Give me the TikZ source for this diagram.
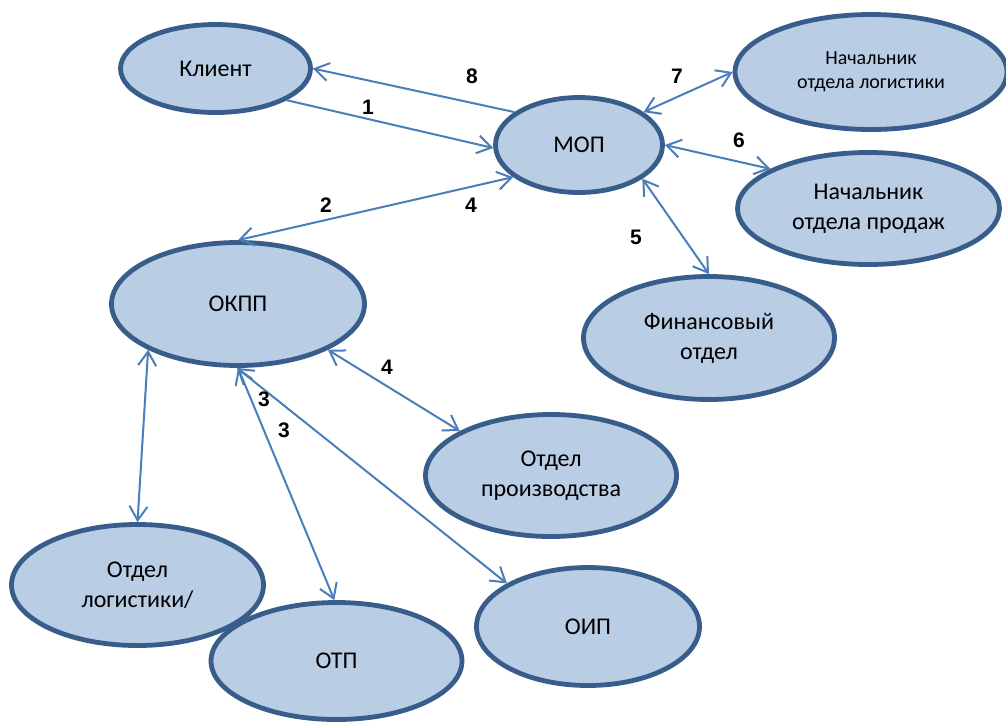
\documentclass[tikz,border=0pt]{standalone}
\usepackage{fontspec}
\setmainfont{Carlito}
\newfontfamily\numfont{Liberation Sans}
\usetikzlibrary{shapes.geometric,arrows.meta}
\definecolor{unitfill}{HTML}{B9CDE5}
\definecolor{unitline}{HTML}{385D8A}
\definecolor{linkline}{HTML}{4A7EBB}
\tikzset{
  unit/.style={ellipse, draw=unitline, fill=unitfill, line width=4.8pt,
    inner sep=0pt, align=center, text=black,
    font=\fontsize{24}{30}\selectfont},
  smallunit/.style={unit, font=\fontsize{20}{24}\selectfont},
  link/.style={draw=linkline, line width=2pt},
  twoway/.style={link, {Straight Barb[length=14pt,width=18pt]}-{Straight Barb[length=14pt,width=18pt]}},
  oneway/.style={link, -{Straight Barb[length=14pt,width=18pt]}},
  stepnum/.style={font=\numfont\fontsize{21}{25}\selectfont\bfseries, inner sep=0pt}
}
\begin{document}
\begin{tikzpicture}[x=1pt, y=-1pt]
\clip (0,0) rectangle (1006,724);
\fill[white] (0,0) rectangle (1006,724);

% organisational units
\node[unit, minimum width=190pt, minimum height=88pt]  (client) at (215.5,68.5) {Клиент};
\node[unit, minimum width=167pt, minimum height=95pt]  (mop)    at (579,145)    {МОП};
\node[smallunit, minimum width=272pt, minimum height=115pt] (headlog) at (871,72) {Начальник\\отдела логистики};
\node[unit, minimum width=262pt, minimum height=112pt] (headsales) at (868.5,208.5) {Начальник\\отдела продаж};
\node[unit, minimum width=253pt, minimum height=123pt] (okpp)   at (238,304)    {ОКПП};
\node[unit, minimum width=251pt, minimum height=123pt] (fin)    at (709,338)    {Финансовый\\отдел};
\node[unit, minimum width=251pt, minimum height=122pt] (prod)   at (551,475.5)  {Отдел\\производства};
\node[unit, minimum width=223pt, minimum height=118pt] (oip)    at (588,626.5)  {ОИП};
\node[unit, minimum width=252pt, minimum height=121pt] (logdep) at (137.5,585)  {Отдел\\логистики/};
\node[unit, minimum width=251pt, minimum height=117pt] (otp)    at (336.5,661)  {ОТП};

% connections
\draw[oneway] (client.-24) -- (mop.182);
\draw[oneway] (mop.153) -- (client.0);
\draw[twoway] (mop.27) -- (headlog.180);
\draw[twoway] (mop.0) -- (headsales.158);
\draw[twoway] (mop.-28) -- (fin.90);
\draw[twoway] (mop.206) -- (okpp.90);
\draw[twoway] (okpp.-27) -- (prod.154);
\draw[twoway] (okpp.207) -- (logdep.90);
\draw[twoway] (okpp.270) -- (otp.92);
\draw[twoway] (okpp.269) -- (oip.152);

% step numbers
\node[stepnum] (n8)  at (472,76)  {8};
\node[stepnum] (n1)  at (368,107) {1};
\node[stepnum] (n7)  at (677,76)  {7};
\node[stepnum] (n6)  at (739,140) {6};
\node[stepnum] (n5)  at (636,237) {5};
\node[stepnum] (n2)  at (326,205) {2};
\node[stepnum] (n4a) at (471,205) {4};
\node[stepnum] (n4b) at (387,367) {4};
\node[stepnum] (n3a) at (264,399) {3};
\node[stepnum] (n3b) at (284,430) {3};
\end{tikzpicture}
\end{document}
